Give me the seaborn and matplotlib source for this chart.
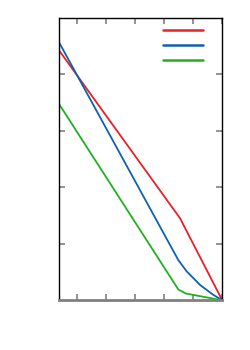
import numpy as np
import pandas as pd
import matplotlib
matplotlib.use("Agg")
import matplotlib.pyplot as plt
import seaborn as sns

# values (no text in the original)
red_x = [0.39, 4.55, 6.0]
red_y = [4.42, 1.45, 0.0]
blue_x = [0.39, 4.49, 4.78, 5.24, 5.70, 6.0]
blue_y = [4.56, 0.71, 0.51, 0.27, 0.094, 0.0]
green_x = [0.39, 4.49, 4.75, 6.0]
green_y = [3.47, 0.19, 0.12, 0.0]
colors = ["#e8202a", "#1060b0", "#22b022"]

df = pd.concat([
    pd.DataFrame({"x": red_x, "y": red_y, "s": "a"}),
    pd.DataFrame({"x": blue_x, "y": blue_y, "s": "b"}),
    pd.DataFrame({"x": green_x, "y": green_y, "s": "c"}),
])

sns.set_style("ticks")
fig = plt.figure(figsize=(2.5, 3.5), dpi=100)
ax = fig.add_axes([0.237, 0.142, 0.652, 0.807])

sns.lineplot(data=df, x="x", y="y", hue="s", palette=colors, sort=False,
             estimator=None, linewidth=1.3, ax=ax, legend=False)

ax.set_xlim(0.39, 6.0)
ax.set_ylim(0, 5)
ax.set_xticks([1, 2, 3, 4, 5, 6])
ax.set_yticks([1, 2, 3, 4])
ax.set_xticklabels([])
ax.set_yticklabels([])
ax.set_xlabel("")
ax.set_ylabel("")
ax.tick_params(direction="in", length=4, width=1.2, color="#808080",
               top=True, right=True)
for side in ["left", "right", "top"]:
    ax.spines[side].set_color("black")
    ax.spines[side].set_linewidth(1.0)
ax.spines["bottom"].set_color("#808080")
ax.spines["bottom"].set_linewidth(2.0)

handles = [plt.Line2D([], [], color=c, linewidth=1.8) for c in colors]
ax.legend(handles, [" ", " ", " "], loc="upper right",
          bbox_to_anchor=(0.943, 0.9885), frameon=False,
          handlelength=4.1, handletextpad=0.3, labelspacing=0.55,
          borderaxespad=0, borderpad=0.4, fontsize=7)

fig.savefig("out.png", dpi=100)
